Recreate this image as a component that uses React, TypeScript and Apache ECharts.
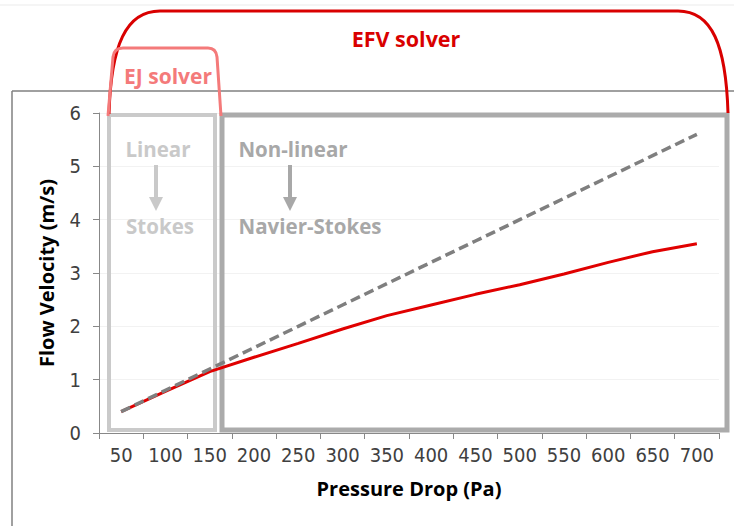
import React, { useEffect, useRef } from 'react';
import * as echarts from 'echarts';

const categories = ['50', '100', '150', '200', '250', '300', '350', '400', '450', '500', '550', '600', '650', '700'];
const efvVelocity = [0.4, 0.78, 1.15, 1.42, 1.68, 1.95, 2.2, 2.4, 2.6, 2.78, 2.98, 3.2, 3.4, 3.55];
const stokesVelocity = [0.4, 0.8, 1.2, 1.6, 2.0, 2.4, 2.8, 3.2, 3.6, 4.0, 4.4, 4.8, 5.2, 5.6];
const yMin = 0;
const yMax = 6;
const yInterval = 1;
const xAxisTitle = 'Pressure Drop (Pa)';
const yAxisTitle = 'Flow Velocity (m/s)';
const efvLabel = 'EFV solver';
const ejLabel = 'EJ solver';
const linearLabels = ['Linear', 'Stokes'];
const nonLinearLabels = ['Non-linear', 'Navier-Stokes'];

echarts.graphic.registerShape(
  'efvArc',
  echarts.graphic.extendPath('M109,114 C111,45 126,11 160,11 L678,11 C712,11 726,45 728,113', {})
);
echarts.graphic.registerShape(
  'ejArc',
  echarts.graphic.extendPath('M108,116 L113,57 Q114,48 123,48 L208,48 Q216,48 217,57 L221,116', {})
);

const FONT = '"Open Sans", "Noto Sans", sans-serif';
const TICK_FONT = '"Liberation Sans Narrow", "DejaVu Sans Condensed", "Liberation Sans", sans-serif';

export default function App() {
  const ref = useRef<HTMLDivElement>(null);
  useEffect(() => {
    document.body.style.margin = '0';
    const chart = echarts.init(ref.current!, null, { renderer: 'svg' });
    const text = (t: string, x: number, y: number, fill: string, size: number) => ({
      type: 'text',
      x,
      y,
      z: 10,
      style: { text: t, fill, fontSize: size, fontWeight: 'bold', fontFamily: FONT, align: 'center', verticalAlign: 'middle' },
    });
    const arrow = (x: number, y1: number, y2: number, color: string) => [
      { type: 'line', z: 10, shape: { x1: x, y1, x2: x, y2: y2 - 12 }, style: { stroke: color, lineWidth: 4 } },
      { type: 'polygon', z: 10, shape: { points: [[x - 7, y2 - 14], [x + 7, y2 - 14], [x, y2]] }, style: { fill: color } },
    ];
    chart.setOption({
      animation: false,
      backgroundColor: '#ffffff',
      grid: { left: 99, right: 15, top: 113, bottom: 93 },
      xAxis: {
        type: 'category',
        data: categories,
        boundaryGap: true,
        name: xAxisTitle,
        nameLocation: 'middle',
        nameGap: 45,
        nameTextStyle: { fontSize: 20, fontWeight: 'bold', color: '#000', fontFamily: FONT },
        axisLine: { lineStyle: { color: '#888', width: 1 } },
        axisTick: { show: true, length: 6, interval: 0, lineStyle: { color: '#888' } },
        axisLabel: { color: '#404040', fontSize: 20, fontFamily: TICK_FONT, margin: 12, interval: 0, hideOverlap: false },
        splitLine: { show: false },
      },
      yAxis: {
        type: 'value',
        min: yMin,
        max: yMax,
        interval: yInterval,
        name: yAxisTitle,
        nameLocation: 'middle',
        nameGap: 43,
        nameTextStyle: { fontSize: 20, fontWeight: 'bold', color: '#000', fontFamily: FONT },
        axisLine: { show: true, lineStyle: { color: '#888', width: 1 } },
        axisTick: { show: true, length: 6, lineStyle: { color: '#888' } },
        axisLabel: { color: '#404040', fontSize: 20, fontFamily: TICK_FONT, margin: 18 },
        splitLine: { show: true, lineStyle: { color: '#f2f2f2' } },
      },
      series: [
        {
          type: 'line',
          name: 'EFV',
          data: efvVelocity,
          symbol: 'none',
          z: 3,
          lineStyle: { color: '#e00000', width: 3 },
        },
        {
          type: 'line',
          name: 'Stokes',
          data: stokesVelocity,
          symbol: 'none',
          z: 4,
          lineStyle: { color: '#7f7f7f', width: 3.5, type: [10, 5] },
        },
      ],
      graphic: [
        { type: 'line', z: 1, shape: { x1: 0, y1: 5, x2: 734, y2: 5 }, style: { stroke: '#ebebeb', lineWidth: 1 } },
        { type: 'line', z: 1, shape: { x1: 12, y1: 91, x2: 734, y2: 91 }, style: { stroke: '#808080', lineWidth: 1.5 } },
        { type: 'line', z: 1, shape: { x1: 12, y1: 91, x2: 12, y2: 526 }, style: { stroke: '#808080', lineWidth: 1.5 } },
        { type: 'rect', z: 2, shape: { x: 109, y: 115, width: 106, height: 315 }, style: { stroke: '#cacaca', lineWidth: 4, fill: 'none' } },
        { type: 'rect', z: 2, shape: { x: 222, y: 115, width: 505, height: 315 }, style: { stroke: '#ababab', lineWidth: 5, fill: 'none' } },
        { type: 'efvArc', x: 0, y: 0, z: 5, style: { stroke: '#d90000', lineWidth: 3, fill: 'none' } },
        { type: 'ejArc', x: 0, y: 0, z: 6, style: { stroke: '#f47a7a', lineWidth: 3, fill: 'none' } },
        text(efvLabel, 406, 38, '#d90000', 21.5),
        text(ejLabel, 168, 76, '#f47a7a', 21),
        text(linearLabels[0], 158, 149, '#c9c9c9', 20.5),
        ...arrow(156, 165, 211, '#c9c9c9'),
        text(linearLabels[1], 160, 226, '#c9c9c9', 20.5),
        text(nonLinearLabels[0], 293, 149, '#a8a8a8', 20.5),
        ...arrow(290, 165, 211, '#a8a8a8'),
        text(nonLinearLabels[1], 310, 226, '#a8a8a8', 20.5),
      ],
    });
    return () => chart.dispose();
  }, []);
  return <div ref={ref} style={{ width: 734, height: 526 }} />;
}
